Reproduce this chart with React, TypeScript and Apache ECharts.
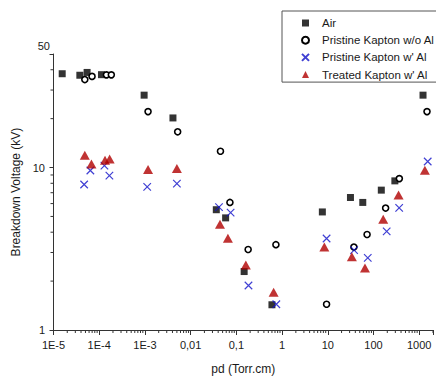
import React, { useEffect, useRef } from "react";
import * as echarts from "echarts";

const seriesNames = ["Air", "Pristine Kapton w/o Al", "Pristine Kapton w' Al", "Treated Kapton w' Al"];

const airPd = [1.55e-5, 3.77e-5, 5.43e-5, 1.12e-4, 9.6e-4, 4.1e-3, 0.0364, 0.0582, 0.148, 0.6, 7.6, 31.3, 58.2, 148, 293, 1210];
const airV = [37.8, 37.0, 38.5, 37.3, 27.9, 20.2, 5.5, 4.9, 2.29, 1.43, 5.33, 6.54, 6.1, 7.26, 8.28, 27.9];

const pristineNoAlPd = [4.84e-5, 6.97e-5, 1.44e-4, 1.84e-4, 1.17e-3, 5.2e-3, 0.0449, 0.0723, 0.181, 0.733, 9.4, 37.2, 72.3, 184, 367, 1479];
const pristineNoAlV = [34.8, 36.4, 37.2, 37.2, 22.1, 16.6, 12.6, 6.1, 3.13, 3.35, 1.44, 3.24, 3.87, 5.63, 8.55, 22.1];

const pristineAlPd = [4.68e-5, 6.4e-5, 1.3e-4, 1.67e-4, 1.12e-3, 5.0e-3, 0.0417, 0.0748, 0.184, 0.748, 9.4, 37.6, 74.8, 194, 364, 1531];
const pristineAlV = [7.86, 9.59, 10.28, 8.91, 7.61, 7.97, 5.71, 5.28, 1.88, 1.44, 3.66, 3.1, 2.78, 4.05, 5.65, 10.9];

const treatedAlPd = [4.84e-5, 6.76e-5, 1.34e-4, 1.69e-4, 1.17e-3, 5.0e-3, 0.0438, 0.0653, 0.161, 0.653, 8.4, 33.6, 65, 163, 353, 1328];
const treatedAlV = [11.9, 10.5, 11.1, 11.3, 9.72, 9.86, 4.47, 3.67, 2.51, 1.71, 3.24, 2.82, 2.41, 4.81, 6.78, 9.64];

const xTickLabels = ["1E-5", "1E-4", "1E-3", "0,01", "0,1", "1", "10", "100", "1000"];
const yTickLabels = ["1", "10"];
const yTopLabel = "50";
const xMin = 1e-5;
const xMax = 2000;
const yMin = 1;
const yMax = 50;

const FONT = "'Liberation Sans', Arial, sans-serif";
const AXIS = "#333";
const TEXT = "#1a1a1a";
const CROSS = "path://M0,0L10,10M10,0L0,10";
const symbols = ["rect", "circle", CROSS, "triangle"];

function pairs(xs: number[], ys: number[]) {
  return xs.map((x, i) => [x, ys[i]]);
}

export default function App() {
  const ref = useRef<HTMLDivElement>(null);
  useEffect(() => {
    const chart = echarts.init(ref.current!, null, { renderer: "svg" });
    const option: any = {
      animation: false,
      backgroundColor: "#ffffff",
      textStyle: { fontFamily: FONT },
      grid: { left: 53.5, right: 0, top: 54, bottom: 44.7 },
      legend: {
        orient: "vertical",
        left: 282,
        top: 11,
        padding: [6, 2, 1.5, 19],
        itemWidth: 7,
        itemHeight: 7,
        itemGap: 5.2,
        borderColor: "#555",
        borderWidth: 1,
        textStyle: { fontFamily: FONT, fontSize: 11.5, color: TEXT, lineHeight: 12, padding: [0, 0, 0, 8] },
        data: seriesNames.map((n, i) => ({ name: n, icon: symbols[i] })),
      },
      xAxis: {
        type: "log",
        logBase: 10,
        min: xMin,
        max: xMax,
        name: "pd (Torr.cm)",
        nameLocation: "middle",
        nameGap: 33,
        nameTextStyle: { fontFamily: FONT, fontSize: 12, color: TEXT },
        axisLine: { lineStyle: { color: AXIS, width: 1 } },
        axisTick: { show: true, length: 5, lineStyle: { color: AXIS } },
        splitLine: { show: false },
        axisLabel: {
          margin: 9,
          fontFamily: FONT,
          fontSize: 11,
          color: TEXT,
          showMaxLabel: true,
          formatter: (v: number) => {
            const l = Math.log10(v);
            const e = Math.round(l);
            if (Math.abs(l - e) > 1e-6) return "";
            const s = xTickLabels[e + 5];
            return s === undefined ? "" : s;
          },
        },
      },
      yAxis: {
        type: "log",
        logBase: 10,
        min: yMin,
        max: yMax,
        name: "Breakdown Voltage (kV)",
        nameLocation: "middle",
        nameGap: 26,
        nameTextStyle: { fontFamily: FONT, fontSize: 12, color: TEXT },
        axisLine: { show: true, lineStyle: { color: AXIS, width: 1 } },
        axisTick: { show: true, length: 4, lineStyle: { color: AXIS } },
        splitLine: { show: false },
        axisLabel: {
          margin: 8.5,
          fontFamily: FONT,
          fontSize: 11,
          color: TEXT,
          formatter: (v: number) => {
            const l = Math.log10(v);
            const e = Math.round(l);
            if (Math.abs(l - e) > 1e-6) return "";
            const s = yTickLabels[e];
            return s === undefined ? "" : s;
          },
        },
      },
      series: [
        {
          name: seriesNames[0],
          type: "scatter",
          symbol: symbols[0],
          symbolSize: 7,
          itemStyle: { color: "#000000" },
          data: pairs(airPd, airV),
        },
        {
          name: seriesNames[1],
          type: "scatter",
          symbol: symbols[1],
          symbolSize: 6,
          itemStyle: { color: "#ffffff", borderColor: "#000000", borderWidth: 1.6, opacity: 1 },
          data: pairs(pristineNoAlPd, pristineNoAlV),
        },
        {
          name: seriesNames[2],
          type: "scatter",
          symbol: symbols[2],
          symbolSize: 7.5,
          itemStyle: { color: "#1010c8", borderColor: "#1010c8", borderWidth: 1.2 },
          data: pairs(pristineAlPd, pristineAlV),
        },
        {
          name: seriesNames[3],
          type: "scatter",
          symbol: symbols[3],
          symbolSize: [10, 9],
          itemStyle: { color: "#b00000" },
          data: pairs(treatedAlPd, treatedAlV),
        },
      ],
    };
    chart.setOption(option);

    // minor ticks and top label placed through the axis scales
    const graphics: any[] = [];
    const yBase = chart.convertToPixel({ yAxisIndex: 0 }, yMin) as number;
    const xBase = chart.convertToPixel({ xAxisIndex: 0 }, xMin) as number;
    for (let e = -5; e <= 3; e++) {
      for (let m = 2; m <= 9; m++) {
        const v = m * Math.pow(10, e);
        if (v > xMax) break;
        const px = chart.convertToPixel({ xAxisIndex: 0 }, v) as number;
        graphics.push({
          type: "line",
          silent: true,
          shape: { x1: px, y1: yBase, x2: px, y2: yBase + 3 },
          style: { stroke: AXIS, lineWidth: 1 },
        });
      }
    }
    for (let e = 0; e <= 1; e++) {
      for (let m = 2; m <= 9; m++) {
        const v = m * Math.pow(10, e);
        if (v >= yMax) break;
        const py = chart.convertToPixel({ yAxisIndex: 0 }, v) as number;
        graphics.push({
          type: "line",
          silent: true,
          shape: { x1: xBase - 3, y1: py, x2: xBase, y2: py },
          style: { stroke: AXIS, lineWidth: 1 },
        });
      }
    }
    const yTop = chart.convertToPixel({ yAxisIndex: 0 }, yMax) as number;
    graphics.push({
      type: "text",
      silent: true,
      x: xBase - 3.5,
      y: yTop - 8,
      style: {
        text: yTopLabel,
        fontFamily: FONT,
        fontSize: 11,
        fill: TEXT,
        align: "right",
        verticalAlign: "middle",
      },
    });
    chart.setOption({ graphic: graphics });

    return () => chart.dispose();
  }, []);
  return <div ref={ref} style={{ position: "fixed", left: 0, top: 0, width: 436, height: 380 }} />;
}
